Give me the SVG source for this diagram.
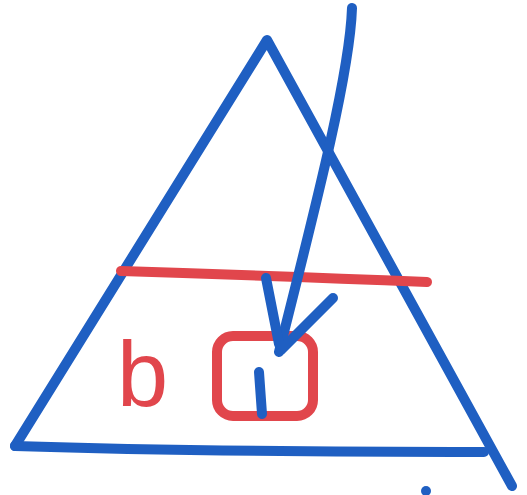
<svg xmlns="http://www.w3.org/2000/svg" width="527" height="495" viewBox="0 0 527 495">
<style>
.blue{fill:none;stroke:#1f5fc2;stroke-width:10;stroke-linecap:round;stroke-linejoin:round}
.red{fill:none;stroke:#e1464c;stroke-width:10;stroke-linecap:round;stroke-linejoin:round}
.lbl{font-family:"Liberation Sans",Arial,sans-serif;font-size:92px;fill:#e1464c}
</style>
<rect width="527" height="495" fill="#ffffff"/>
<g id="triangle">
<path class="blue" d="M15,446 L267,40 L512,486"/>
<path class="blue" d="M15,446 Q200,452 484,452"/>
</g>
<g id="red-line">
<path class="red" d="M121,271 Q280,276 427,282" stroke-width="11"/>
</g>
<g id="box">
<rect class="red" x="217" y="336" width="96" height="80" rx="16"/>
</g>
<g id="label-b">
<text class="lbl" x="117" y="406">b</text>
</g>
<g id="arrow">
<path class="blue" d="M352,8 C350,70 320,190 279,352"/>
<path class="blue" d="M266,278 L279,344"/>
<path class="blue" d="M333,298 L281,350"/>
<path class="blue" d="M259,372 L262,414"/>
</g>
<g id="dot">
<circle cx="426" cy="491" r="5" fill="#1f5fc2"/>
</g>
</svg>
